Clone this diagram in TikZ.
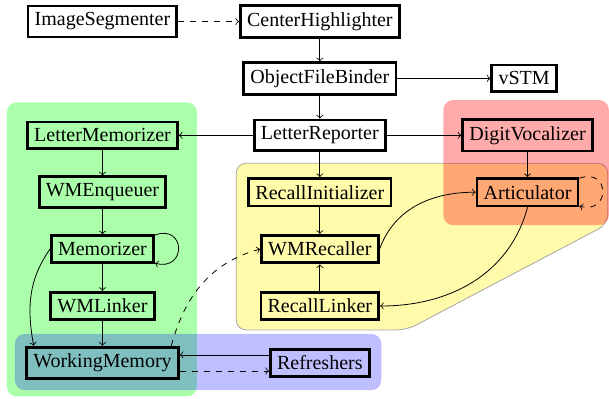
\documentclass[tikz,border=0pt]{standalone}
\usepackage{fontspec}
\setmainfont{Liberation Serif}
\usepackage{tikz}

\begin{document}
\begin{tikzpicture}[box/.style={draw,line width=1.4pt}]
\useasboundingbox (-1.801,0.378) rectangle (8.902,-6.617);

\fill[green,fill opacity=0.33,rounded corners=5pt] (-1.68,-1.42) rectangle (1.66,-6.59);
\filldraw[fill=yellow,fill opacity=0.33,draw=gray!70,rounded corners=5pt]
  (2.35,-2.49) -- (8.88,-2.49) -- (8.88,-3.56) -- (5.35,-5.42) -- (2.35,-5.42) -- cycle;
\fill[red,fill opacity=0.33,rounded corners=5pt] (5.99,-1.38) rectangle (8.9,-3.58);
\fill[blue,fill opacity=0.25,rounded corners=5pt] (-1.54,-5.49) rectangle (4.9,-6.48);

\node[box] (ImageSegmenter) at (0,0) {ImageSegmenter};
\node[box] (CenterHighlighter) at (3.82,0) {CenterHighlighter};
\node[box] (ObjectFileBinder) at (3.82,-1) {ObjectFileBinder};
\node[box] (vSTM) at (7.41,-1) {vSTM};
\node[box] (LetterMemorizer) at (0,-2) {LetterMemorizer};
\node[box] (LetterReporter) at (3.82,-2) {LetterReporter};
\node[box] (DigitVocalizer) at (7.47,-2) {DigitVocalizer};
\node[box] (WMEnqueuer) at (0,-3) {WMEnqueuer};
\node[box] (RecallInitializer) at (3.82,-3) {RecallInitializer};
\node[box] (Articulator) at (7.47,-3) {Articulator};
\node[box] (Memorizer) at (0,-4) {Memorizer};
\node[box] (WMRecaller) at (3.82,-4) {WMRecaller};
\node[box] (WMLinker) at (0,-5) {WMLinker};
\node[box] (RecallLinker) at (3.82,-5) {RecallLinker};
\node[box] (WorkingMemory) at (0,-6) {WorkingMemory};
\node[box] (Refreshers) at (3.82,-6) {Refreshers};

\draw[->,dashed] (ImageSegmenter) -- (CenterHighlighter);

\foreach \a/\b in {CenterHighlighter/ObjectFileBinder,ObjectFileBinder/vSTM,
  ObjectFileBinder/LetterReporter,LetterReporter/LetterMemorizer,
  LetterReporter/DigitVocalizer,LetterReporter/RecallInitializer,
  LetterMemorizer/WMEnqueuer,WMEnqueuer/Memorizer,Memorizer/WMLinker,
  WMLinker/WorkingMemory,DigitVocalizer/Articulator,
  RecallInitializer/WMRecaller,RecallLinker/WMRecaller}
\draw[->] (\a) -- (\b);

\draw[->] (Memorizer.15) to[out=20,in=-15,looseness=3] (Memorizer.-15);
\draw[->,dashed] (Articulator.15) to[out=20,in=-15,looseness=3] (Articulator.-15);

\draw[->] (Memorizer.west) to[out=-125,in=100] (WorkingMemory.166);
\draw[->,dashed] (WorkingMemory.14) to[out=75,in=195] (WMRecaller.west);
\draw[->] (WMRecaller.east) to[out=70,in=180] (Articulator.west);
\draw[->] (Articulator.south) to[out=-105,in=0] (RecallLinker.east);

\draw[->] ([yshift=4pt]Refreshers.west) -- ([yshift=4pt]WorkingMemory.east);
\draw[->,dashed] ([yshift=-4pt]WorkingMemory.east) -- ([yshift=-4pt]Refreshers.west);

\end{tikzpicture}
\end{document}
